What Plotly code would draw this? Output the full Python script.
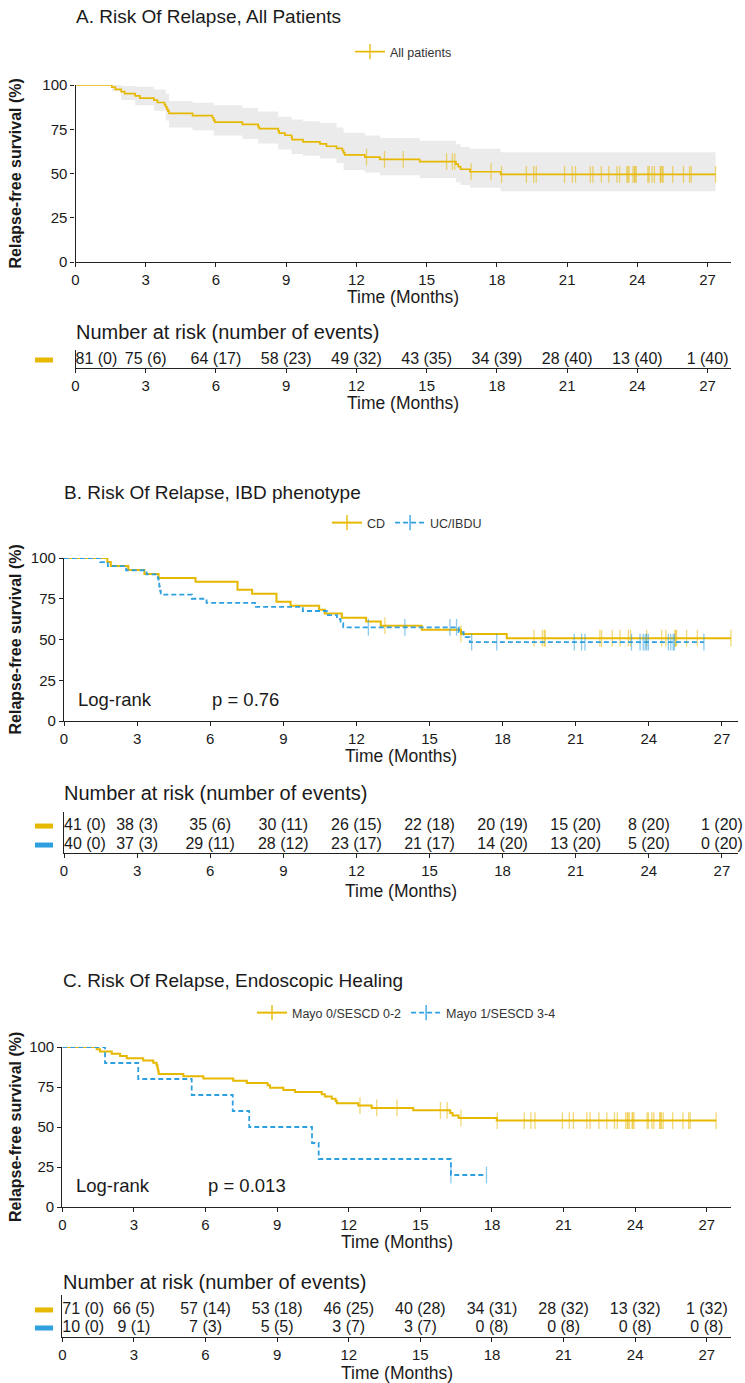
import numpy as np
import plotly.graph_objects as go

W, H = 745, 1383

# ---------------- data ----------------
month_ticks = [0, 3, 6, 9, 12, 15, 18, 21, 24, 27]
surv_ticks = [0, 25, 50, 75, 100]

# Panel A - all patients
a_time = [0, 1.55, 1.7, 1.95, 2.1, 2.55, 2.75, 3.35, 3.5, 3.8, 3.85, 3.9, 3.95, 4.0, 5.0, 5.85, 5.9, 5.95,
          7.13, 7.8, 7.85, 8.66, 8.7, 8.95, 9.23, 9.25, 9.72, 10.44, 10.72, 11.15, 11.4, 11.45, 11.5,
          12.36, 13.0, 14.7, 16.25, 16.35, 16.45, 16.85, 18.16, 27.34]
a_surv = [100, 98.8, 97.5, 96.3, 95.1, 93.8, 92.6, 91.4, 90.1, 88.9, 87.7, 86.4, 85.2, 84.0, 82.7, 81.5, 80.2, 79.0,
          77.8, 76.5, 75.3, 74.1, 72.8, 71.6, 70.4, 69.1, 67.9, 66.7, 65.4, 64.2, 63.0, 61.7, 60.5,
          59.3, 58.0, 56.7, 55.3, 53.9, 52.4, 51.0, 49.5, 49.5]
a_cens = [12.43, 13.2, 14.0, 15.85, 16.1, 16.2, 16.9, 17.75, 18.2, 19.26, 19.57, 19.68, 20.89, 21.22, 21.36,
          21.99, 22.1, 22.46, 22.78, 23.13, 23.24, 23.55, 23.6, 23.64, 23.81, 23.88, 23.9, 23.95, 24.45, 24.5,
          24.63, 24.73, 24.98, 25.0, 25.06, 25.1, 25.51, 25.97, 26.23, 26.3, 27.34]
a_ci_time = [0, 1.55, 1.95, 2.55, 3.35, 3.85, 4.0, 5.0, 5.9, 7.13, 7.8, 8.66, 9.23, 9.72, 10.44, 11.15, 11.45,
             12.36, 13.0, 14.7, 16.25, 16.45, 16.85, 18.16, 27.34]
a_ci_low = [100, 96.5, 91.5, 88.5, 85.5, 80, 76, 74.5, 71.5, 69.5, 67, 63.5, 61, 60, 58.5, 56, 52,
            50.5, 49, 47.5, 45, 43.5, 42, 40, 40]
a_ci_high = [100, 100, 99.5, 99, 97.5, 95, 91, 90, 88.5, 87, 85, 82, 80.5, 79.5, 78.5, 76, 73,
             71.5, 70, 68.5, 66.5, 65, 64, 62, 62]
a_n = [81, 75, 64, 58, 49, 43, 34, 28, 13, 1]
a_ev = [0, 6, 17, 23, 32, 35, 39, 40, 40, 40]

# Panel B - CD vs UC/IBDU
cd_time = [0, 1.78, 1.92, 2.64, 3.3, 3.88, 5.4, 7.12, 7.72, 8.72, 9.3, 10.47, 10.7, 11.4, 12.4, 13.0, 14.68,
           16.29, 18.17, 27.37]
cd_surv = [100, 97.6, 95.1, 92.7, 90.2, 87.8, 85.4, 80.5, 78.0, 73.2, 70.7, 68.3, 65.9, 63.4, 61.0, 58.5, 56.0,
           53.4, 50.8, 50.8]
cd_cens = [13.17, 16.29, 19.29, 19.63, 19.71, 19.75, 21.99, 22.06, 22.5, 22.82, 23.16, 23.25, 23.91, 24.53,
           24.7, 25.07, 25.1, 25.14, 25.55, 25.99, 27.37]
uc_time = [0, 1.48, 1.8, 2.55, 3.39, 3.85, 3.88, 3.91, 3.94, 3.97, 5.25, 5.85, 7.84, 9.8, 10.78, 11.2, 11.35,
           11.46, 16.2, 16.4, 16.65, 26.26]
uc_surv = [100, 97.5, 95.0, 92.5, 90.0, 87.5, 85.0, 82.5, 80.0, 77.5, 75.0, 72.5, 70.0, 67.5, 65.0, 62.5, 60.0,
           57.5, 54.5, 51.4, 48.4, 48.4]
uc_cens = [12.49, 13.99, 15.84, 16.11, 16.73, 17.76, 20.94, 21.24, 21.38, 23.29, 23.64, 23.77, 23.85, 23.91,
           23.98, 24.8, 24.9, 25.0, 25.05, 26.26]
cd_n = [41, 38, 35, 30, 26, 22, 20, 15, 8, 1]
cd_ev = [0, 3, 6, 11, 15, 18, 19, 20, 20, 20]
uc_n = [40, 37, 29, 28, 23, 21, 14, 13, 5, 0]
uc_ev = [0, 3, 11, 12, 17, 17, 20, 20, 20, 20]
b_pval = "p = 0.76"

# Panel C - endoscopic healing
m0_time = [0, 1.44, 1.58, 2.07, 2.42, 2.7, 3.39, 3.81, 3.95, 3.98, 4.0, 4.02, 4.04, 5.07, 5.91, 7.16, 7.73,
           8.6, 8.7, 9.26, 9.75, 10.87, 11.0, 11.29, 11.45, 11.5, 12.4, 12.96, 14.7, 16.25, 16.35, 16.6, 18.2, 27.39]
m0_surv = [100, 98.6, 97.2, 95.8, 94.4, 93.0, 91.5, 90.1, 88.7, 87.3, 85.9, 84.5, 83.1, 81.7, 80.3, 78.9, 77.5,
           76.1, 74.6, 73.2, 71.8, 70.4, 69.0, 67.6, 66.2, 64.8, 63.4, 61.9, 60.4, 58.8, 57.2, 55.6, 54.0, 54.0]
m0_cens = [12.47, 13.17, 14.02, 15.84, 16.12, 16.7, 18.22, 19.35, 19.63, 19.8, 20.95, 21.24, 21.41, 21.97,
           22.11, 22.48, 22.81, 23.13, 23.25, 23.6, 23.67, 23.7, 23.75, 23.87, 23.9, 23.95, 24.5, 24.55, 24.7,
           24.78, 25.03, 25.05, 25.1, 25.17, 25.57, 26.0, 26.24, 26.3, 27.39]
m1_time = [0, 1.79, 3.18, 5.42, 7.14, 7.83, 10.46, 10.74, 16.28, 17.77]
m1_surv = [100, 90, 80, 70, 60, 50, 40, 30, 20, 20]
m1_cens = [16.28, 17.77]
m0_n = [71, 66, 57, 53, 46, 40, 34, 28, 13, 1]
m0_ev = [0, 5, 14, 18, 25, 28, 31, 32, 32, 32]
m1_n = [10, 9, 7, 5, 3, 3, 0, 0, 0, 0]
m1_ev = [0, 1, 3, 5, 7, 7, 8, 8, 8, 8]
c_pval = "p = 0.013"

# ---------------- style ----------------
YEL = "#E7B800"
BLU = "#2E9FDF"
YEL_T = "rgba(231,184,0,0.55)"
BLU_T = "rgba(46,159,223,0.55)"
FONT = "Liberation Sans, Arial, sans-serif"
TXT = "#1a1a1a"


def xd(l, r):
    return [l / W, r / W]


def yd(t, b):
    return [1 - b / H, 1 - t / H]


def py(p):
    return 1 - p / H


def step_at(times, surv, t):
    idx = np.searchsorted(np.asarray(times), np.asarray(t), side="right") - 1
    return list(np.asarray(surv)[idx])


fig = go.Figure()


def add_curve(times, surv, cens, color, tcolor, width, dash, xa, ya):
    fig.add_trace(go.Scatter(x=times, y=surv, mode="lines", xaxis=xa, yaxis=ya, showlegend=False,
                             line=dict(color=color, width=width, shape="hv", dash=dash),
                             cliponaxis=False, hoverinfo="skip"))
    fig.add_trace(go.Scatter(x=cens, y=step_at(times, surv, cens), mode="markers", xaxis=xa, yaxis=ya,
                             showlegend=False, cliponaxis=False, hoverinfo="skip",
                             marker=dict(symbol="line-ns-open", size=12, color=tcolor,
                                         line=dict(color=tcolor, width=1.3))))


def add_legend_item(name, color, width, dash, legend, xa, ya):
    fig.add_trace(go.Scatter(x=[None], y=[None], mode="lines+markers", name=name, xaxis=xa, yaxis=ya,
                             legend=legend, line=dict(color=color, width=width, dash=dash),
                             marker=dict(symbol="line-ns-open", size=11, color=color,
                                         line=dict(color=color, width=1.3))))


def add_risk_row(n, ev, yval, xa, ya):
    labels = [f"{a} ({b})" for a, b in zip(n, ev)]
    pos = ["middle right"] + ["middle center"] * (len(labels) - 1)
    fig.add_trace(go.Scatter(x=month_ticks, y=[yval] * len(labels), mode="text", text=labels,
                             textposition=pos, textfont=dict(size=16, color=TXT, family=FONT),
                             xaxis=xa, yaxis=ya, showlegend=False, hoverinfo="skip", cliponaxis=False))


# Panel A
fig.add_trace(go.Scatter(x=a_ci_time, y=a_ci_low, mode="lines", line=dict(width=0, shape="hv"),
                         xaxis="x", yaxis="y", showlegend=False, hoverinfo="skip"))
fig.add_trace(go.Scatter(x=a_ci_time, y=a_ci_high, mode="lines", line=dict(width=0, shape="hv"),
                         fill="tonexty", fillcolor="#EBEBEB", xaxis="x", yaxis="y", showlegend=False,
                         hoverinfo="skip"))
add_curve(a_time, a_surv, a_cens, YEL, YEL_T, 1.7, "solid", "x", "y")
add_legend_item("All patients", YEL, 1.7, "solid", "legend", "x", "y")
add_risk_row(a_n, a_ev, 0, "x2", "y2")

# Panel B
add_curve(cd_time, cd_surv, cd_cens, YEL, YEL_T, 2.0, "solid", "x3", "y3")
add_curve(uc_time, uc_surv, uc_cens, BLU, BLU_T, 1.8, "5px,3px", "x3", "y3")
add_legend_item("CD", YEL, 2.0, "solid", "legend2", "x3", "y3")
add_legend_item("UC/IBDU", BLU, 1.8, "5px,3px", "legend2", "x3", "y3")
add_risk_row(cd_n, cd_ev, 1, "x4", "y4")
add_risk_row(uc_n, uc_ev, 0, "x4", "y4")

# Panel C
add_curve(m0_time, m0_surv, m0_cens, YEL, YEL_T, 2.0, "solid", "x5", "y5")
add_curve(m1_time, m1_surv, m1_cens, BLU, BLU_T, 1.8, "5px,3px", "x5", "y5")
add_legend_item("Mayo 0/SESCD 0-2", YEL, 2.0, "solid", "legend3", "x5", "y5")
add_legend_item("Mayo 1/SESCD 3-4", BLU, 1.8, "5px,3px", "legend3", "x5", "y5")
add_risk_row(m0_n, m0_ev, 1, "x6", "y6")
add_risk_row(m1_n, m1_ev, 0, "x6", "y6")

# ---------------- axes ----------------
tickfont = dict(size=15, color=TXT, family=FONT)


def xaxis(dom, rng, anchor):
    return dict(domain=dom, range=rng, tickvals=month_ticks, ticks="outside", ticklen=4, tickwidth=1,
                tickcolor="#222", showline=True, linecolor="#222", linewidth=1.2, showgrid=False,
                zeroline=False, tickfont=tickfont, anchor=anchor, automargin=False)


def yaxis_main(dom, anchor):
    return dict(domain=dom, range=[0, 100], tickvals=surv_ticks, ticks="outside", ticklen=4, tickwidth=1,
                tickcolor="#222", showline=True, linecolor="#222", linewidth=1.2, showgrid=False,
                zeroline=False, tickfont=tickfont, anchor=anchor, automargin=False)


def yaxis_tab(dom, rng, anchor):
    return dict(domain=dom, range=rng, showticklabels=False, ticks="", showline=True, linecolor="#222",
                linewidth=1.2, showgrid=False, zeroline=False, anchor=anchor, automargin=False)


xa_A = xd(75.5, 731)
xa_B = xd(64, 738)
xa_C = xd(62.3, 730.7)

layout = dict(
    width=W, height=H, margin=dict(l=0, r=0, t=0, b=0),
    paper_bgcolor="white", plot_bgcolor="white",
    font=dict(family=FONT, color=TXT),
    xaxis=xaxis(xa_A, [0, 28], "y"), yaxis=yaxis_main(yd(85, 262), "x"),
    xaxis2=xaxis(xa_A, [0, 28], "y2"), yaxis2=yaxis_tab(yd(350, 367.5), [-0.4, 0.53], "x2"),
    xaxis3=xaxis(xa_B, [0, 27.66], "y3"), yaxis3=yaxis_main(yd(558, 721), "x3"),
    xaxis4=xaxis(xa_B, [0, 27.66], "y4"), yaxis4=yaxis_tab(yd(812, 853), [-0.42, 1.74], "x4"),
    xaxis5=xaxis(xa_C, [0, 28], "y5"), yaxis5=yaxis_main(yd(1047, 1207), "x5"),
    xaxis6=xaxis(xa_C, [0, 28], "y6"), yaxis6=yaxis_tab(yd(1295, 1337), [-0.5, 1.83], "x6"),
)

leg_common = dict(orientation="h", xanchor="left", yanchor="middle", itemwidth=30,
                  font=dict(size=12.5, color="#333", family=FONT), bgcolor="rgba(0,0,0,0)",
                  itemclick=False, itemdoubleclick=False)
layout["legend"] = dict(leg_common, x=350 / W, y=py(52))
layout["legend2"] = dict(leg_common, x=327 / W, y=py(523))
layout["legend3"] = dict(leg_common, x=252 / W, y=py(1013))

fig.update_layout(**layout)

# ---------------- text annotations ----------------
ann = []


def text(x_px, y_px, s, size, anchor="left", angle=0, bold=False):
    ann.append(dict(x=x_px / W, y=py(y_px), xref="paper", yref="paper", text=f"<b>{s}</b>" if bold else s,
                    showarrow=False, xanchor=anchor, yanchor="middle", textangle=angle,
                    font=dict(size=size, color=TXT, family=FONT)))


# titles
text(74, 16, "A. Risk Of Relapse, All Patients", 19)
text(62, 492, "B. Risk Of Relapse, IBD phenotype", 19)
text(61, 980, "C. Risk Of Relapse, Endoscopic Healing", 19)
# y titles
text(15, (85 + 262) / 2, "Relapse-free survival (%)", 16, "center", -90, True)
text(15, (558 + 721) / 2, "Relapse-free survival (%)", 16, "center", -90, True)
text(15, (1047 + 1207) / 2, "Relapse-free survival (%)", 16, "center", -90, True)
# x titles
text((75.5 + 731) / 2, 297, "Time (Months)", 17.5, "center")
text((75.5 + 731) / 2, 403, "Time (Months)", 17.5, "center")
text((64 + 738) / 2, 756, "Time (Months)", 17.5, "center")
text((64 + 738) / 2, 891, "Time (Months)", 17.5, "center")
text((62.3 + 730.7) / 2, 1242, "Time (Months)", 17.5, "center")
text((62.3 + 730.7) / 2, 1373, "Time (Months)", 17.5, "center")
# risk table headings
text(74, 332, "Number at risk (number of events)", 20)
text(62, 793, "Number at risk (number of events)", 20)
text(61, 1282, "Number at risk (number of events)", 20)

# log-rank annotations (data coordinates)
for xa, ya, p in (("x3", "y3", b_pval), ("x5", "y5", c_pval)):
    ann.append(dict(x=0.5, y=13.3, xref=xa, yref=ya, text="Log-rank", showarrow=False, xanchor="left",
                    yanchor="middle", font=dict(size=18.5, color=TXT, family=FONT)))
    ann.append(dict(x=6.0, y=13.3, xref=xa, yref=ya, text=p, showarrow=False, xanchor="left",
                    yanchor="middle", font=dict(size=18.5, color=TXT, family=FONT)))

fig.update_layout(annotations=ann)

# colored strata bars in risk tables
shapes = []
for ya, yv, col in (("y2", 0, YEL), ("y4", 1, YEL), ("y4", 0, BLU), ("y6", 1, YEL), ("y6", 0, BLU)):
    shapes.append(dict(type="line", xref="paper", yref=ya, x0=35 / W, x1=53 / W, y0=yv, y1=yv,
                       line=dict(color=col, width=5)))
fig.update_layout(shapes=shapes)

fig.write_html("out.html")
